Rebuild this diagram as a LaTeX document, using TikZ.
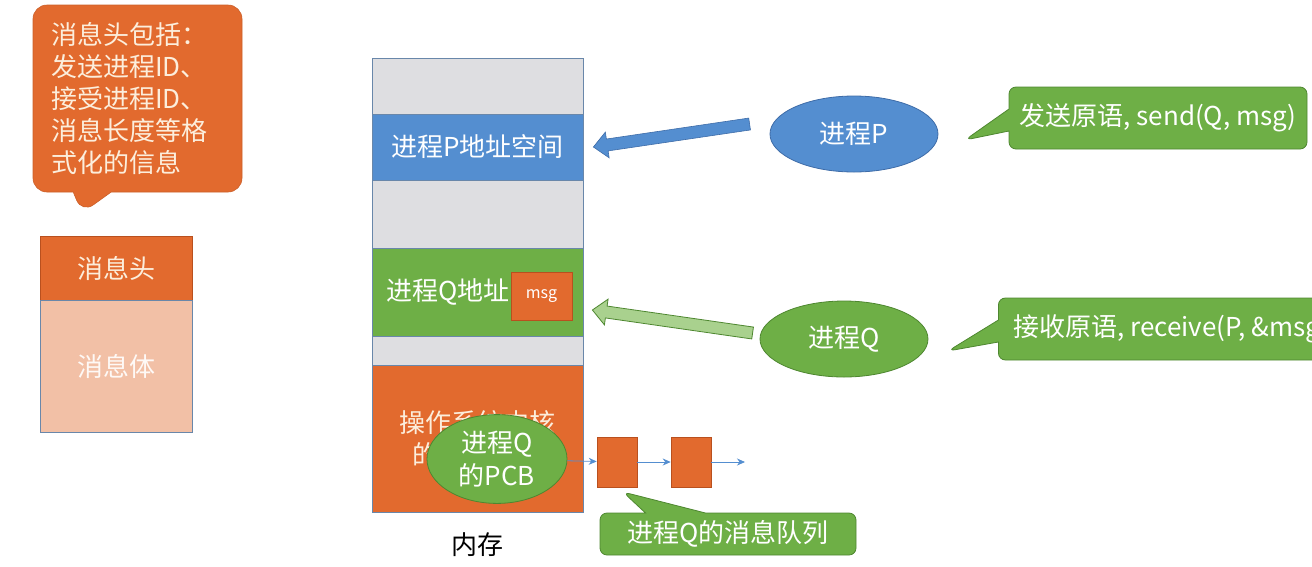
\documentclass[tikz,border=0pt]{standalone}
\usepackage{fontspec}
\setmainfont{Noto Sans CJK SC}
\usetikzlibrary{shapes.geometric,shapes.callouts,calc,arrows.meta}

\definecolor{ppOrange}{RGB}{226,106,46}
\definecolor{ppOrangeDk}{RGB}{185,80,30}
\definecolor{ppPeach}{RGB}{242,192,166}
\definecolor{ppBlue}{RGB}{84,142,208}
\definecolor{ppBlueDk}{RGB}{62,108,168}
\definecolor{ppGreen}{RGB}{110,175,70}
\definecolor{ppGreenDk}{RGB}{78,135,48}
\definecolor{ppLightGreen}{RGB}{169,209,142}
\definecolor{ppGray}{RGB}{222,222,225}
\definecolor{ppEdge}{RGB}{105,135,170}
\definecolor{ppCream}{RGB}{252,238,220}

\tikzset{
  big/.style={font=\fontsize{26}{32}\selectfont},
  seg/.style={draw=ppEdge, line width=0.8pt, minimum width=211pt, inner sep=0pt, big},
  proc/.style={ellipse, line width=0.8pt, minimum width=168pt, minimum height=76pt, text=white, big},
  qbox/.style={fill=ppOrange, draw=ppOrangeDk, line width=0.6pt, minimum width=40pt, minimum height=50pt, inner sep=0pt},
  qarrow/.style={draw=ppBlue, line width=0.8pt, -{Stealth[length=8pt,width=7pt]}},
  tip/.style={rectangle callout, rounded corners=7pt, fill=ppGreen, draw=ppGreenDk, line width=0.8pt, text=white, big, inner sep=0pt}
}

% fat arrow between two points: #1 style, #2 tail, #3 head
\newcommand{\fatarrow}[3]{
  \path (#2) coordinate (fa-s) (#3) coordinate (fa-t);
  \path ($(fa-t)!14pt!(fa-s)$) coordinate (fa-h);
  \filldraw[#1] ($(fa-s)!6pt!90:(fa-t)$) -- ($(fa-h)!6pt!90:(fa-t)$) -- ($(fa-h)!13pt!90:(fa-t)$)
    -- (fa-t) -- ($(fa-h)!13pt!-90:(fa-t)$) -- ($(fa-h)!6pt!-90:(fa-t)$) -- ($(fa-s)!6pt!-90:(fa-t)$) -- cycle;
}

\begin{document}
\begin{tikzpicture}[x=1pt, y=-1pt]
  \useasboundingbox (0,0) rectangle (1312,566);
  \clip (0,0) rectangle (1312,566);

  % message format
  \node[rectangle callout, rounded corners=14pt, fill=ppOrange, draw=ppOrange!90!black, line width=0.6pt,
        minimum width=209pt, minimum height=187pt, text width=173pt, inner xsep=18pt, align=left,
        text=ppCream, font=\fontsize{26}{32}\selectfont,
        callout absolute pointer={(82,213)}, callout pointer width=38pt]
        (fmt) at (137.5,98.5) {消息头包括：\\发送进程ID、\\接受进程ID、\\消息长度等格\\式化的信息};
  \node[draw=ppOrangeDk, fill=ppOrange, minimum width=152pt, minimum height=64pt, text=ppCream, big] (hdr) at (116,268) {消息头};
  \node[draw=ppEdge, fill=ppPeach, minimum width=152pt, minimum height=132pt, text=white!90!ppPeach, big] (body) at (116,366) {消息体};

  % memory
  \begin{scope}[every node/.append style={seg}]
    \node[fill=ppGray, minimum height=56pt] (g1) at (477.5,86) {};
    \node[fill=ppBlue, minimum height=66pt, text=white] (segP) at (477.5,147) {进程P地址空间};
    \node[fill=ppGray, minimum height=68pt] (g2) at (477.5,214) {};
    \node[fill=ppGreen, minimum height=88pt, text=white, text width=183pt, inner xsep=14pt, align=left] (segQ) at (477.5,292) {进程Q地址};
    \node[fill=ppGray, minimum height=29pt] (g3) at (477.5,350.5) {};
    \node[fill=ppOrange, minimum height=147pt, text=ppCream, align=center] (kern) at (477.5,438.5) {操作系统内核\\的地址空间};
  \end{scope}
  \node[fill=ppOrange, draw=ppOrangeDk, line width=0.6pt, minimum width=61pt, minimum height=48pt, text=white,
        font=\fontsize{16}{18}\selectfont] (msg) at (541.5,296) {msg};
  \node[big] (mem) at (477,545) {内存};

  % PCB and queue
  \node[proc, fill=ppGreen, draw=ppGreenDk, minimum width=140pt, align=center,
        font=\fontsize{26}{33}\selectfont] (pcb) at (497,459) {进程Q\\的PCB};
  \node[qbox] (q1) at (617,462) {};
  \node[qbox] (q2) at (691,462) {};
  \coordinate (qend) at (745,462);
  \draw[qarrow] (pcb) -- (q1);
  \draw[qarrow] (q1) -- (q2);
  \draw[qarrow] (q2) -- (qend);

  % processes
  \node[proc, fill=ppBlue, draw=ppBlueDk] (procP) at (854,134) {进程P};
  \node[proc, fill=ppGreen, draw=ppGreenDk] (procQ) at (844,339) {进程Q};
  \fatarrow{fill=ppBlue, draw=ppBlueDk, line width=0.6pt}{$(procP.west)+(-20,-10)$}{$(segP.east)+(10,0)$}
  \fatarrow{fill=ppLightGreen, draw=ppGreenDk, line width=0.8pt}{$(procQ.west)+(-7,-6)$}{$(segQ.east)+(9,18)$}

  % primitives
  \node[tip, minimum width=298pt, minimum height=62pt,
        callout absolute pointer={(965,140)}, callout pointer width=22pt] (send) at (1158,118) {发送原语, send(Q, msg)};
  \node[tip, anchor=west, minimum height=62pt, inner xsep=15pt,
        callout absolute pointer={(948,351)}, callout pointer width=22pt] (recv) at (998,329) {接收原语, receive(P, \&msg)};
  \node[tip, minimum width=256pt, minimum height=42pt,
        callout absolute pointer={(623,492)}, callout pointer width=60pt] (queue) at (728,534) {进程Q的消息队列};
\end{tikzpicture}
\end{document}
